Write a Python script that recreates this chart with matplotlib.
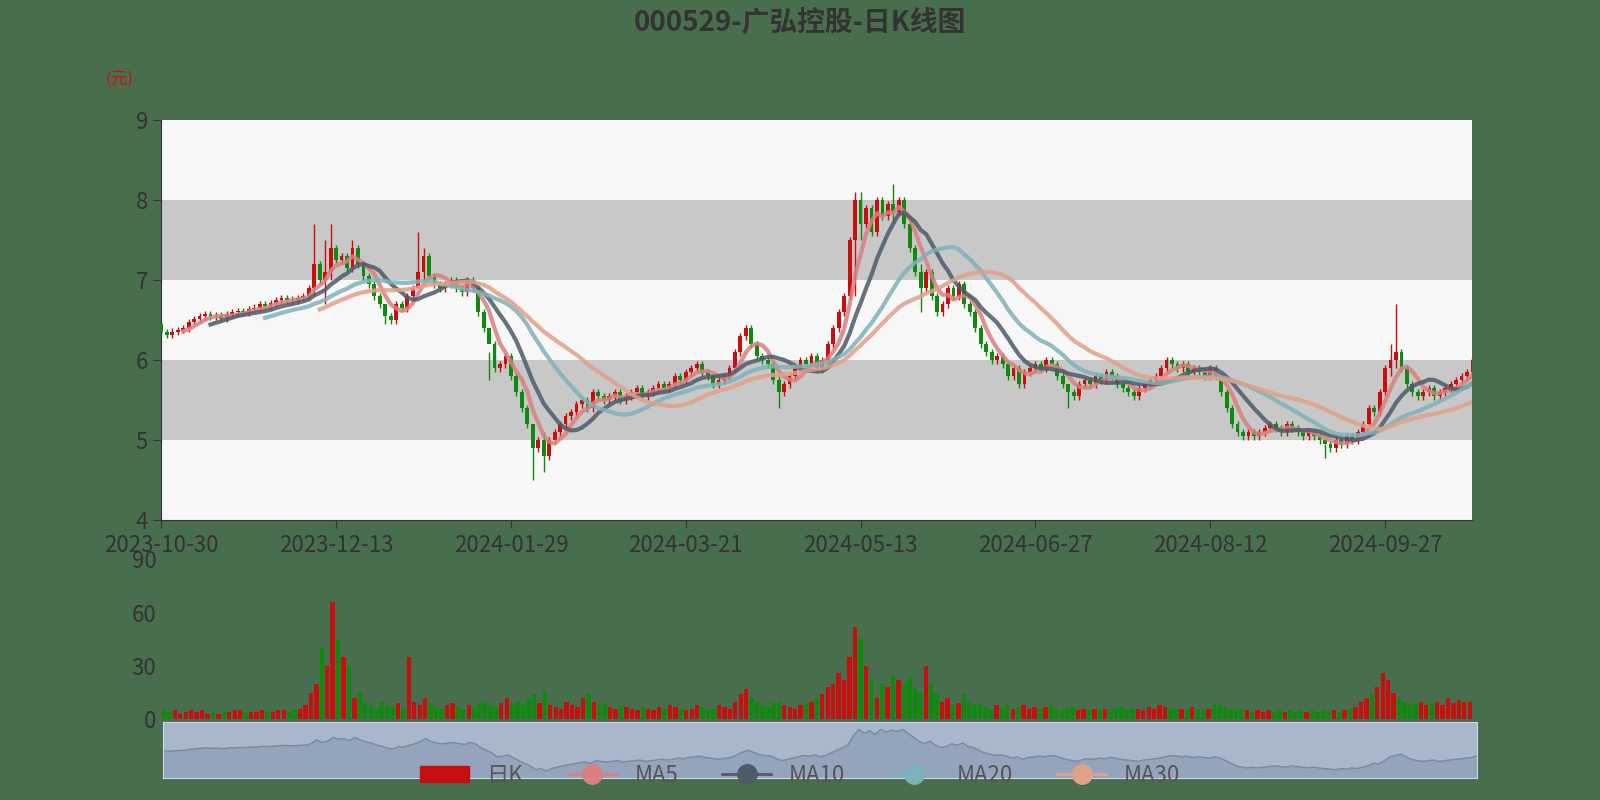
import matplotlib.pyplot as plt
import matplotlib.patches as mpatches
from matplotlib.lines import Line2D
import numpy as np
import pandas as pd

plt.rcParams['font.family'] = ['Noto Sans CJK SC', 'DejaVu Sans']

title = "000529-广弘控股-日K线图"
tick_labels = ["2023-10-30", "2023-12-13", "2024-01-29", "2024-03-21",
               "2024-05-13", "2024-06-27", "2024-08-12", "2024-09-27"]
tick_pos = [0, 32, 64, 96, 128, 160, 192, 224]

close = [6.35,6.32,6.36,6.38,6.40,6.48,6.52,6.55,6.58,6.55,6.56,6.52,6.58,6.60,6.62,6.60,6.64,6.66,6.70,6.68,6.72,6.75,6.78,6.76,6.75,6.78,6.80,6.90,7.20,7.00,7.10,7.40,7.25,
         7.30,7.15,7.40,7.20,7.05,6.95,6.80,6.70,6.55,6.50,6.70,6.65,6.80,6.90,7.10,7.30,7.05,6.95,6.90,6.95,7.00,6.90,6.85,7.00,6.90,6.60,6.40,6.20,5.90,5.95,6.05,5.80,
         5.60,5.40,5.20,4.90,5.00,4.80,5.00,5.10,5.20,5.30,5.35,5.45,5.50,5.40,5.60,5.55,5.50,5.55,5.60,5.50,5.55,5.60,5.65,5.55,5.60,5.65,5.70,5.65,5.70,5.80,5.75,5.85,
         5.90,5.95,5.85,5.80,5.70,5.75,5.80,5.90,6.10,6.30,6.40,6.20,6.05,6.00,5.95,5.75,5.60,5.70,5.80,5.90,6.00,5.95,6.05,5.90,6.00,6.20,6.40,6.60,6.80,7.50,8.00,7.70,
         7.90,7.60,8.00,7.80,7.95,7.85,8.00,7.70,7.40,7.10,6.90,7.10,6.80,6.60,6.70,6.90,6.80,6.95,6.70,6.60,6.40,6.20,6.10,6.00,6.05,5.95,5.80,5.90,5.70,5.85,5.90,5.95,
         5.90,6.00,5.95,5.80,5.70,5.60,5.55,5.70,5.75,5.70,5.80,5.75,5.85,5.80,5.70,5.65,5.60,5.55,5.65,5.70,5.75,5.80,5.90,6.00,5.95,5.90,5.95,5.85,5.90,5.85,5.80,5.90,
         5.80,5.60,5.40,5.20,5.10,5.05,5.10,5.05,5.10,5.15,5.20,5.15,5.10,5.20,5.15,5.10,5.05,5.10,5.05,5.00,4.95,4.90,5.00,4.95,5.05,5.00,5.10,5.20,5.40,5.35,5.60,5.90,
         6.00,6.10,5.90,5.70,5.60,5.55,5.60,5.65,5.55,5.60,5.65,5.70,5.75,5.80,5.85,6.00]
open_first = 6.45
# notable shadows: index -> (high, low)
spikes = {28: (7.7, 6.8), 30: (7.5, 6.7), 31: (7.7, 7.0), 35: (7.5, 7.1), 41: (6.6, 6.45),
          47: (7.6, 7.0), 48: (7.4, 7.0), 60: (6.1, 5.75), 68: (5.2, 4.5), 70: (5.1, 4.6),
          113: (5.8, 5.4), 127: (8.1, 6.8), 128: (8.1, 7.5), 134: (8.2, 7.7), 139: (7.2, 6.6),
          166: (5.7, 5.4), 225: (6.2, 5.8), 226: (6.7, 5.9), 213: (4.95, 4.78)}
volume = [6,4,5,3,4,5,4,5,3,4,3,4,4,5,5,4,4,4,5,4,4,5,5,4,5,6,8,15,20,40,30,66,45,
          35,30,12,15,10,8,6,10,8,7,9,6,35,10,8,12,9,7,6,8,9,7,6,8,7,9,10,8,7,9,12,8,
          10,8,12,14,9,16,8,7,6,10,8,7,12,14,10,8,9,7,6,8,7,6,5,7,6,5,7,6,8,7,6,5,
          6,8,7,5,6,8,7,6,10,14,17,12,10,8,7,9,10,8,7,6,8,9,10,12,14,18,20,26,22,35,52,45,
          30,22,12,20,18,25,22,20,24,18,15,30,20,15,10,12,8,9,14,10,8,9,7,6,8,7,9,6,7,8,6,7,
          6,7,8,6,5,6,7,5,6,5,6,5,6,5,6,7,5,6,6,5,7,6,8,7,6,5,6,5,7,6,5,6,
          9,8,7,6,5,6,5,4,5,4,5,4,5,4,5,4,5,4,5,4,5,4,5,4,5,6,7,10,12,14,18,26,
          22,15,12,10,8,9,10,8,9,10,8,12,9,11,10,10]

n = min(len(close), len(volume))
close = np.array(close[:n])
volume = np.array(volume[:n])
opens = np.concatenate([[open_first], close[:-1]])
x = np.arange(n)
up = close >= opens
UP, DOWN = "#c80f0f", "#0f8a0f"

fig = plt.figure(figsize=(16, 8), dpi=100)
fig.patch.set_facecolor("#496e4e")

ax = fig.add_axes([0.1008, 0.3495, 0.8195, 0.50])
for lo in range(4, 9):
    ax.axhspan(lo, lo + 1, color="#c8c8c8" if lo in (5, 7) else "#f7f7f7", zorder=0, lw=0)
for i in x:
    hi = max(opens[i], close[i]) + 0.04
    lo = min(opens[i], close[i]) - 0.04
    if i in spikes:
        hi, lo = spikes[i]
    c = UP if up[i] else DOWN
    ax.vlines(i, lo, hi, color=c, lw=1, zorder=2)
    h = abs(close[i] - opens[i]) or 0.01
    ax.add_patch(mpatches.Rectangle((i - 0.35, min(opens[i], close[i])), 0.7, h,
                                    color=c, lw=0, zorder=3))
ma_cols = {"MA5": "#d98080", "MA10": "#4e5b6b", "MA20": "#7fb2b8", "MA30": "#e0a08a"}
s = pd.Series(close)
for w, name in zip([5, 10, 20, 30], ma_cols):
    ax.plot(x, s.rolling(w).mean(), color=ma_cols[name], lw=3, alpha=0.85, zorder=4)
ax.set_xlim(0, n - 1)
ax.set_ylim(4, 9)
ax.set_yticks(range(4, 10))
ax.set_xticks(tick_pos)
ax.set_xticklabels(tick_labels)
ax.tick_params(labelsize=16, colors="#333333", length=6)
for sp in ["top", "right"]:
    ax.spines[sp].set_visible(False)
ax.spines["left"].set_color("#333333")
ax.spines["bottom"].set_color("#333333")
fig.text(0.5, 0.972, title, ha="center", va="center", fontsize=20, fontweight="bold", color="#333333")
fig.text(0.0746, 0.9005, "(元)", ha="center", va="center", fontsize=12, color="#c80f0f")

vax = fig.add_axes([0.1008, 0.1008, 0.8195, 0.2])
vax.patch.set_alpha(0)
vax.bar(x, volume, width=0.8, color=[UP if u else DOWN for u in up])
vax.set_xlim(-0.5, n - 0.5)
vax.set_ylim(0, 90)
vax.set_yticks([0, 30, 60, 90])
vax.set_xticks([])
vax.tick_params(labelsize=16, colors="#333333", length=0)
for sp in vax.spines.values():
    sp.set_visible(False)

# data zoom slider
zax = fig.add_axes([0.102, 0.028, 0.8214, 0.07])
zax.set_facecolor("#a9b7cc")
zax.fill_between(x, close, 4.3, color="#8fa0b8", alpha=0.8)
zax.plot(x, close, color="#7a8aa0", lw=1)
zax.set_xlim(0, n - 1)
zax.set_ylim(4.3, 8.6)
zax.set_xticks([])
zax.set_yticks([])
for sp in zax.spines.values():
    sp.set_color("#d0d8e8")

handles = [mpatches.Patch(color=UP, label="日K")] + \
    [Line2D([], [], color=c, lw=2, marker="o", markersize=14, label=k) for k, c in ma_cols.items()]
fig.legend(handles=handles, loc="center", bbox_to_anchor=(0.5, 0.031), ncol=5, frameon=False,
           fontsize=16, labelcolor="#555555", handlelength=2.2)

fig.savefig("out.png", dpi=100, facecolor=fig.get_facecolor())
